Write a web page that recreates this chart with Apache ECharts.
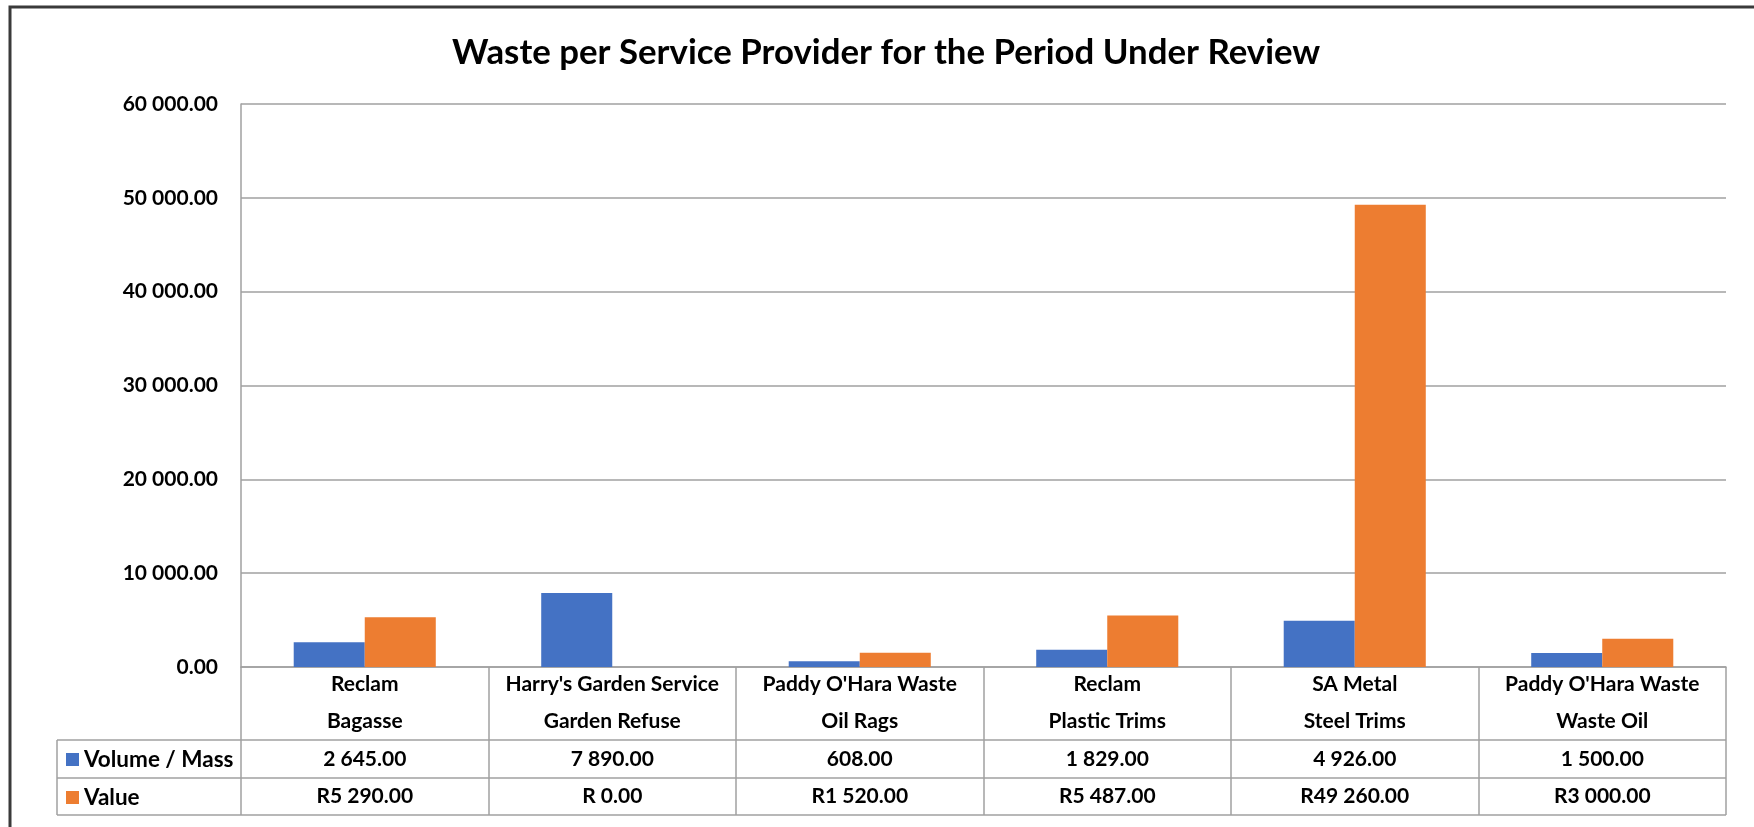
<!DOCTYPE html>
<html lang="en">
<head>
  <meta charset="UTF-8">
  <title>Waste per Service Provider</title>
  <style>
    * { margin: 0; padding: 0; }
    body { background: #ffffff; }
    #chart { width: 1754px; height: 827px; }
  </style>
</head>
<body>
  <div id="chart"></div>

  <script src="https://cdn.jsdelivr.net/npm/echarts@6/dist/echarts.min.js"></script>
  <script type="text/javascript">
  // data
  var providers = ['Reclam', "Harry's Garden Service", "Paddy O'Hara Waste", 'Reclam', 'SA Metal', "Paddy O'Hara Waste"];
  var wasteTypes = ['Bagasse', 'Garden Refuse', 'Oil Rags', 'Plastic Trims', 'Steel Trims', 'Waste Oil'];
  var volumeMass = [2645, 7890, 608, 1829, 4926, 1500];
  var valueRand = [5290, 0, 1520, 5487, 49260, 3000];
  var seriesNames = ['Volume / Mass', 'Value'];

  // layout (px)
  var L = 241, R = 1726, TOP = 104, BASE = 667;
  var ROW1 = 740, ROW2 = 778, ROW3 = 815, LEG = 57;
  var LINE = '#a0a0a0';
  var FONT = 'Lato';

  var categories = providers.map(function (p, i) { return p + '\n' + wasteTypes[i]; });

  // "60 000.00"
  function fmt(v) {
    var parts = v.toFixed(2).split('.');
    return parts[0].replace(/\B(?=(\d{3})+(?!\d))/g, ' ') + '.' + parts[1];
  }
  function fmtRand(v) {
    return v === 0 ? 'R 0.00' : 'R' + fmt(v);
  }

  var cellText = { fontFamily: FONT, fontSize: 21, fontWeight: 'bold', color: '#000' };

  function main () {
    var chart = echarts.init(document.getElementById('chart'));
    var W = 1754;

    var option = {
      animation: false,
      title: {
        text: 'Waste per Service Provider for the Period Under Review',
        left: 452,
        top: 35,
        padding: 0,
        textStyle: { fontFamily: FONT, fontSize: 34.8, fontWeight: 'bold', color: '#000' }
      },
      legend: {
        data: seriesNames,
        orient: 'vertical',
        left: 61,
        top: 743,
        padding: 5,
        itemWidth: 13,
        itemHeight: 13,
        itemGap: 15,
        icon: 'rect',
        selectedMode: false,
        textStyle: { fontFamily: FONT, fontSize: 22.5, fontWeight: 'bold', color: '#000', lineHeight: 23 }
      },
      grid: [
        { left: L, right: W - R, top: TOP, height: BASE - TOP },
        { left: L, right: W - R, top: BASE, height: ROW3 - BASE }
      ],
      xAxis: [
        {
          gridIndex: 0, type: 'category', data: categories, position: 'bottom',
          axisLine: { lineStyle: { color: LINE, width: 1.5 } },
          axisTick: { show: false },
          axisLabel: Object.assign({ interval: 0, margin: 36, verticalAlign: 'middle', lineHeight: 37 }, cellText)
        },
        {
          gridIndex: 0, type: 'category', data: categories, position: 'bottom', offset: (ROW1 + ROW2) / 2 - BASE,
          axisLine: { show: false }, axisTick: { show: false },
          axisLabel: Object.assign({ interval: 0, margin: 0, verticalAlign: 'middle',
            formatter: function (v, i) { return fmt(volumeMass[i]); } }, cellText)
        },
        {
          gridIndex: 0, type: 'category', data: categories, position: 'bottom', offset: (ROW2 + ROW3) / 2 - BASE,
          axisLine: { show: false }, axisTick: { show: false },
          axisLabel: Object.assign({ interval: 0, margin: 0, verticalAlign: 'middle',
            formatter: function (v, i) { return fmtRand(valueRand[i]); } }, cellText)
        },
        {
          // table column lines
          gridIndex: 1, type: 'category', data: categories,
          axisLine: { show: false }, axisTick: { show: false }, axisLabel: { show: false },
          splitLine: { show: true, interval: 0, lineStyle: { color: LINE, width: 1.5 } }
        }
      ],
      yAxis: [
        {
          gridIndex: 0, type: 'value', min: 0, max: 60000, interval: 10000,
          axisLine: { show: true, lineStyle: { color: LINE, width: 1.5 } },
          axisTick: { show: false },
          axisLabel: Object.assign({ margin: 23, formatter: fmt }, cellText),
          splitLine: { lineStyle: { color: LINE, width: 1.5 } }
        },
        { gridIndex: 1, type: 'value', show: false, splitLine: { show: false } }
      ],
      graphic: [
        // outer chart border (only top and left visible)
        { type: 'rect', shape: { x: 10, y: 7, width: 3000, height: 3000 }, style: { fill: null, stroke: '#3a3a3a', lineWidth: 3 }, silent: true },
        { type: 'line', shape: { x1: LEG, y1: ROW1, x2: R, y2: ROW1 }, style: { stroke: LINE, lineWidth: 1.5 } },
        { type: 'line', shape: { x1: LEG, y1: ROW2, x2: R, y2: ROW2 }, style: { stroke: LINE, lineWidth: 1.5 } },
        { type: 'line', shape: { x1: LEG, y1: ROW3, x2: R, y2: ROW3 }, style: { stroke: LINE, lineWidth: 1.5 } },
        { type: 'line', shape: { x1: LEG, y1: ROW1, x2: LEG, y2: ROW3 }, style: { stroke: LINE, lineWidth: 1.5 } }
      ],
      series: [
        {
          name: seriesNames[0], type: 'bar', xAxisIndex: 0, yAxisIndex: 0,
          data: volumeMass, barGap: '0%', barCategoryGap: '42.6%',
          itemStyle: { color: '#4472c4' }
        },
        {
          name: seriesNames[1], type: 'bar', xAxisIndex: 0, yAxisIndex: 0,
          data: valueRand, barGap: '0%', barCategoryGap: '42.6%',
          itemStyle: { color: '#ed7d31' }
        }
      ]
    };
    chart.setOption(option);
  }

  window.addEventListener('load', main);
  </script>
</body>
</html>
